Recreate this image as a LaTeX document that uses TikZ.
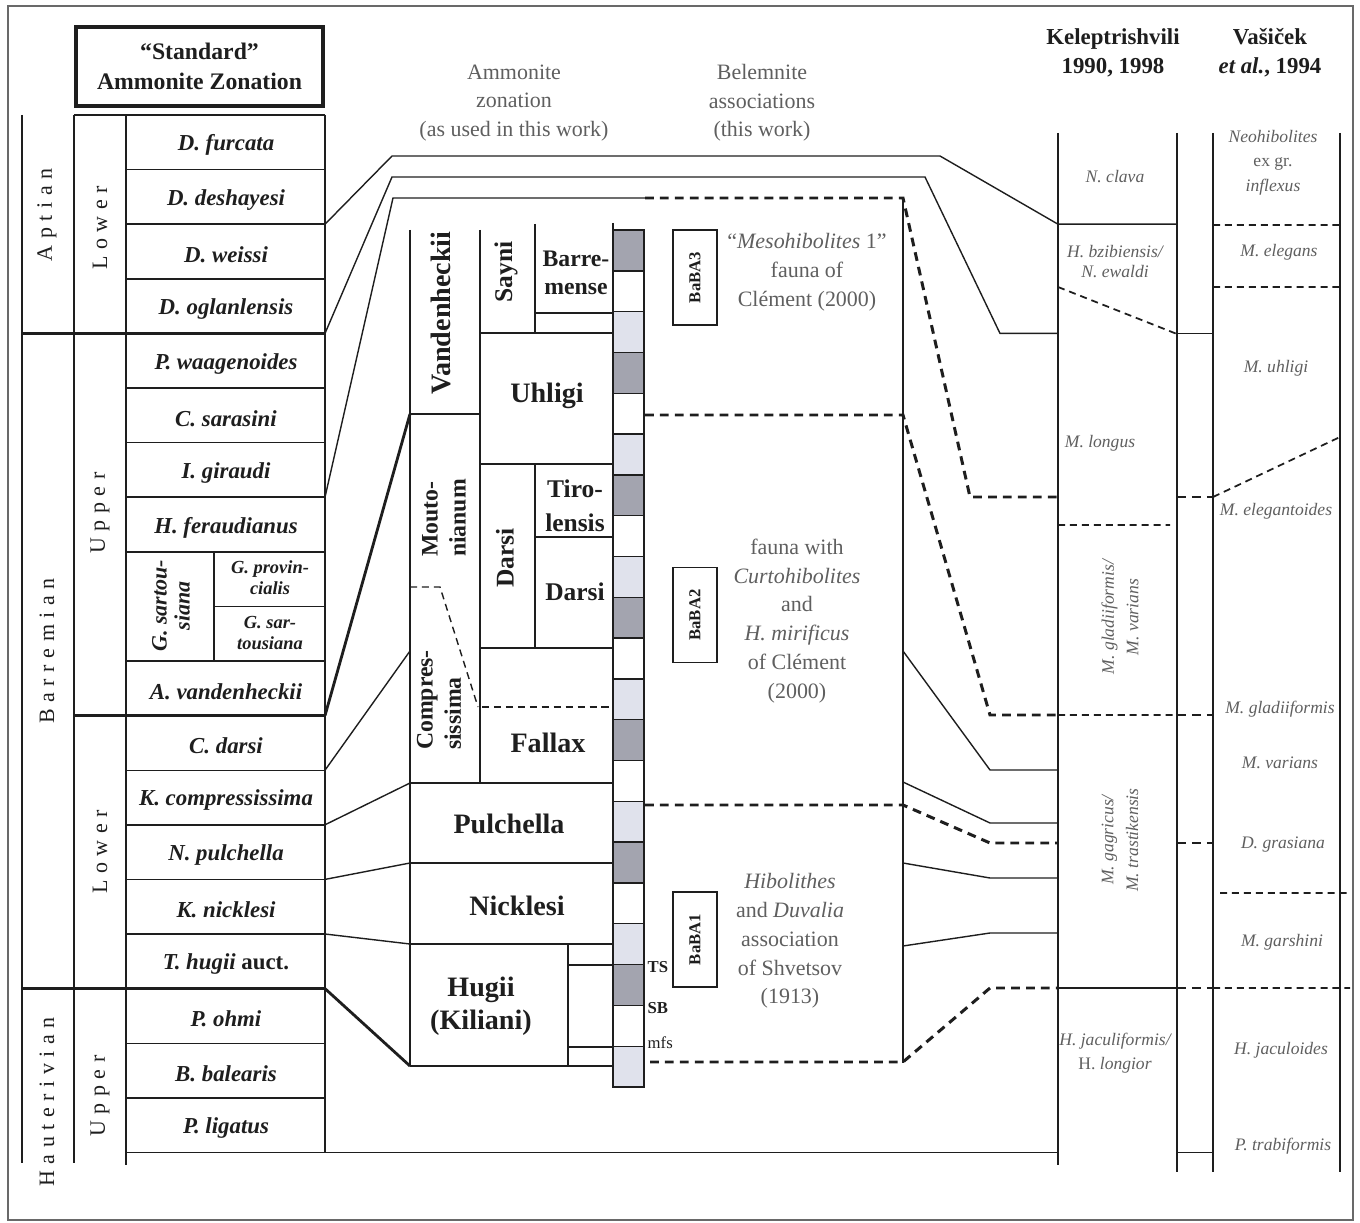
\documentclass[tikz,border=0pt]{standalone}
\usepackage{fontspec}
\setmainfont{Liberation Serif}
\newfontfamily\spacedfont[LetterSpace=30]{Liberation Serif}
\usepackage{xcolor}
\usetikzlibrary{positioning}
\definecolor{cLine}{RGB}{30,30,30}
\definecolor{cGrey}{RGB}{95,95,95}
\definecolor{cDark}{RGB}{163,164,175}
\definecolor{cLight}{RGB}{224,226,236}
\definecolor{cFrame}{RGB}{105,105,105}

\begin{document}
\begin{tikzpicture}[x=0.02cm,y=-0.02cm,line width=0.8pt,color=cLine,inner sep=0pt]
\tikzset{
 zn/.style={font=\fontsize{13}{15}\selectfont\bfseries\itshape},
 sz/.style={font=\fontsize{10.5}{12}\selectfont\bfseries\itshape,align=center},
 stg/.style={rotate=90,font=\spacedfont\fontsize{12.5}{14}\selectfont},
 am/.style={font=\fontsize{16}{19}\selectfont\bfseries,align=center},
 ams/.style={font=\fontsize{13.5}{16}\selectfont\bfseries,align=center},
 hd/.style={text=cGrey,font=\fontsize{12.5}{16.2}\selectfont,align=center},
 bl/.style={text=cGrey,font=\fontsize{12.5}{16.4}\selectfont,align=center},
 rt/.style={text=cGrey,font=\fontsize{10}{14}\selectfont\itshape,align=center},
 ba/.style={draw,rotate=90,line width=1pt,minimum width=1.9cm,minimum height=0.88cm,font=\fontsize{9.5}{11}\selectfont\bfseries},
 sq/.style={font=\fontsize{9.5}{11}\selectfont\bfseries,anchor=west},
 thk/.style={line width=1.6pt},
 bd/.style={line width=1.7pt,dash pattern=on 5pt off 3.5pt},
 td/.style={line width=1pt,dash pattern=on 4pt off 2.8pt}
}
\useasboundingbox (0,0) rectangle (1360,1223);
\draw[cFrame,line width=1.1pt] (8,6) rectangle (1353,1220);

% standard zonation
\node[draw,line width=1.8pt,minimum width=4.94cm,minimum height=1.58cm,align=center,
  font=\fontsize{13.5}{17}\selectfont\bfseries] (title) at (199.5,66.5) {“Standard”\\Ammonite Zonation};
\draw (22,115) -- (22,1163) (74,115) -- (74,1163) (126,115) -- (126,1165) (325,115) -- (325,1152.4);
\draw (74,115) -- (325,115);
\foreach \k in {1,2,3,5,6,7,8,10,12,13,14,15,17,18}
  \draw (126,{115+54.6*\k}) -- (325,{115+54.6*\k});
\draw[thk] (22,333.4) -- (325,333.4) (22,988.6) -- (325,988.6) (74,715.6) -- (325,715.6);
\draw (214,551.8) -- (214,661) (214,606.4) -- (325,606.4);
\foreach \k/\nm in {0/D. furcata,1/D. deshayesi,2/D. weissi,3/D. oglanlensis,
  4/P. waagenoides,5/C. sarasini,6/I. giraudi,7/H. feraudianus,10/A. vandenheckii,
  11/C. darsi,12/K. compressissima,13/N. pulchella,14/K. nicklesi,
  15/{T. hugii \textup{auct.}},16/P. ohmi,17/B. balearis,18/P. ligatus}
  \node[zn] (z\k) at (226,{118+54.6*(\k+0.5)}) {\nm};
\node[sz,rotate=90,font=\fontsize{12.5}{13}\selectfont\bfseries\itshape] (gsar) at (171,606) {G. sartou-\\siana};
\node[sz] (gprov) at (270,578) {G. provin-\\cialis};
\node[sz] (gsart) at (270,633) {G. sar-\\tousiana};
\node[stg] (apt) at (47,215) {Aptian};
\node[stg] (bar) at (47,651) {Barremian};
\node[stg] (hau) at (47,1102) {Hauterivian};
\node[stg] (lo1) at (100,228) {Lower};
\node[stg] (up1) at (100,513) {Upper};
\node[stg] (lo2) at (100,852) {Lower};
\node[stg] (up2) at (100,1096) {Upper};

% links to the zonation of this work
\draw (325,224.2) -- (392,156) -- (940,156) -- (1058,224.2) -- (1177,224.2);
\draw (325,333.4) -- (392,177) -- (925,177) -- (1000,333.4) -- (1058,333.4);
\draw (325,497.2) -- (393,198) -- (645,198);
\draw[thk] (325,715.6) -- (410,414);
\draw (325,770.2) -- (410,651);
\draw (325,824.8) -- (410,783);
\draw (325,879.4) -- (410,863);
\draw (325,934) -- (410,944);
\draw[thk] (325,988.6) -- (410,1066);
\draw (126,1152.4) -- (1058,1152.4);

% ammonite zonation (this work)
\node[hd] (hAmm) at (514,103) {Ammonite\\zonation\\(as used in this work)};
\draw (410,230) -- (410,1066) (480,230) -- (480,783) (535,224) -- (535,333) (535,464) -- (535,648)
  (613,223) -- (613,1066) (568,944) -- (568,1066);
\draw (410,414) -- (480,414) (480,333) -- (613,333) (535,313) -- (613,313) (480,464) -- (613,464)
  (535,537) -- (613,537) (480,648) -- (613,648) (410,783) -- (613,783) (410,863) -- (613,863)
  (410,944) -- (613,944) (410,1066) -- (613,1066) (568,965) -- (613,965) (568,1047) -- (613,1047);
\draw[td,line width=0.8pt] (410,587) -- (440,587) -- (478,707);
\draw[td,line width=0.8pt] (482,707) -- (613,707);
\node[am,rotate=90,font=\fontsize{16}{18}\selectfont\bfseries] (vand) at (441,313) {Vandenheckii};
\node[am,rotate=90,font=\fontsize{14.5}{16}\selectfont\bfseries] (sayn) at (506,272) {Sayni};
\node[ams] (barr) at (576,272.5) {Barre-\\mense};
\node[am] (uhl) at (547,396) {Uhligi};
\node[am,rotate=90,font=\fontsize{14.5}{16}\selectfont\bfseries] (dar1) at (505,558) {Darsi};
\node[ams,font=\fontsize{14.5}{19.5}\selectfont\bfseries] (tir) at (575,506) {Tiro-\\lensis};
\node[ams,font=\fontsize{14.5}{16}\selectfont\bfseries] (dar2) at (575,592) {Darsi};
\node[am] (fal) at (548,743) {Fallax};
\node[ams,rotate=90,align=left] (mou) at (444,518) {Mouto-\\nianum};
\node[ams,rotate=90,align=left] (com) at (439,700) {Compres-\\sissima};
\node[am] (pul) at (509,824) {Pulchella};
\node[am] (nic) at (517,906) {Nicklesi};
\node[am] (hug) at (481,1006) {Hugii\\(Kiliani)};

% sequence column
\foreach \k in {0,...,20}{
  \pgfmathtruncatemacro\m{mod(\k,3)}
  \ifcase\m \def\cc{cDark}\or \def\cc{white}\or \def\cc{cLight}\fi
  \draw[fill=\cc] (613,{230+40.81*\k}) rectangle (644,{230+40.81*(\k+1)});
}
\node[sq] (ts) at (647,967) {TS};
\node[sq] (sb) at (647,1008) {SB};
\node[sq,font=\fontsize{9.5}{11}\selectfont] (mfs) at (647,1043) {mfs};

% belemnite associations
\node[hd] (hBel) at (762,103) {Belemnite\\associations\\(this work)};
\node[ba] (b3) at (695,277.5) {BaBA3};
\node[ba] (b2) at (695,615) {BaBA2};
\node[ba] (b1) at (695,939.5) {BaBA1};
\node[bl] (t3) at (807,272) {“\textit{Mesohibolites} 1”\\fauna of\\Clément (2000)};
\node[bl] (t2) at (797,621) {fauna with\\\textit{Curtohibolites}\\and\\\textit{H. mirificus}\\of Clément\\(2000)};
\node[bl] (t1) at (790,941) {\textit{Hibolithes}\\and \textit{Duvalia}\\association\\of Shvetsov\\(1913)};
\draw (903,198) -- (903,1063);
\draw[bd] (645,198) -- (903,198) -- (970,497) -- (1058,497);
\draw[bd] (645,415) -- (903,415) -- (990,715) -- (1058,715);
\draw[bd] (645,805) -- (903,805) -- (990,843) -- (1058,843);
\draw[bd] (650,1062) -- (903,1062) -- (990,988) -- (1058,988);
\draw (903,651) -- (990,770) -- (1058,770);
\draw (903,782) -- (990,823) -- (1058,823);
\draw (903,863) -- (990,878) -- (1058,878);
\draw (903,946) -- (990,933) -- (1058,933);

% other schemes
\node[font=\fontsize{13}{16.4}\selectfont\bfseries,align=center] (kel) at (1113,53) {Keleptrishvili\\1990, 1998};
\node[font=\fontsize{13}{16.4}\selectfont\bfseries,align=center] (vas) at (1270,53) {Vašiček\\\textit{et al.}, 1994};
\draw (1058,133) -- (1058,1165) (1177,133) -- (1177,1172) (1213,133) -- (1213,1172) (1340,133) -- (1340,1172);
\draw (1058,988) -- (1177,988) (1177,333.4) -- (1213,333.4) (1177,1152.4) -- (1213,1152.4);
\draw[td] (1058,287) -- (1177,334) (1058,525) -- (1170,525) (1058,715) -- (1177,715);
\draw[bd] (1177,497) -- (1213,497) (1177,715) -- (1213,715) (1177,843) -- (1213,843) (1177,988) -- (1213,988);
\draw[td] (1213,225) -- (1340,225) (1213,287) -- (1340,287) (1213,497) -- (1340,437)
  (1220,893) -- (1350,893) (1213,988) -- (1350,988);
\node[rt] (k1) at (1115,177) {N. clava};
\node[rt,font=\fontsize{10}{11}\selectfont\itshape] (k2) at (1115,261.5) {H. bzibiensis/\\N. ewaldi};
\node[rt] (k3) at (1100,443) {M. longus};
\node[rt,rotate=90] (k4) at (1120,617) {M. gladiiformis/\\M. varians};
\node[rt,rotate=90] (k5) at (1120,840) {M. gagricus/\\M. trastikensis};
\node[rt] (k6) at (1115,1053) {H. jaculiformis/\\\textup{H.} longior};
\node[rt] (v1) at (1273,162.5) {Neohibolites\\\textup{ex gr.}\\inflexus};
\node[rt] (v2) at (1279,252) {M. elegans};
\node[rt] (v3) at (1276,368) {M. uhligi};
\node[rt] (v4) at (1276,511) {M. elegantoides};
\node[rt] (v5) at (1280,709) {M. gladiiformis};
\node[rt] (v6) at (1280,763) {M. varians};
\node[rt] (v7) at (1283,845) {D. grasiana};
\node[rt] (v8) at (1282,942) {M. garshini};
\node[rt] (v9) at (1281,1050) {H. jaculoides};
\node[rt] (v10) at (1283,1146) {P. trabiformis};
\end{tikzpicture}
\end{document}
